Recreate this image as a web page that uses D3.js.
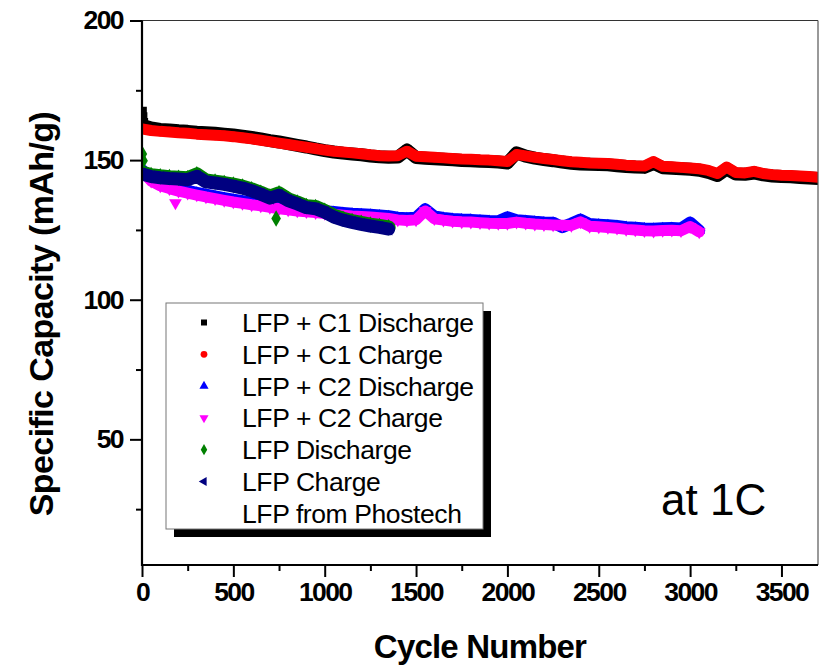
<!DOCTYPE html>
<html>
<head>
<meta charset="utf-8">
<script src="https://cdn.jsdelivr.net/npm/d3@7"></script>
<style>
  html, body { margin: 0; padding: 0; background: #fff; }
  svg { display: block; }
  text { font-family: "Liberation Sans", Arial, Helvetica, sans-serif; }
</style>
</head>
<body>
<svg id="chart" width="825" height="669"></svg>
<script>
// Cycle grid shared by all series (step of 50 cycles)
const cyclesC1 = d3.range(0, 3701, 50);   // 0 .. 3700
const cyclesC2 = d3.range(0, 3051, 50);   // 0 .. 3050
const cyclesLFP = d3.range(0, 1351, 50);  // 0 .. 1350

const c1Discharge = [162.5,161.5,161.0,160.8,160.5,160.3,160.0,159.8,159.6,159.3,159.0,158.6,158.1,157.6,157.0,156.5,155.9,155.3,154.7,154.0,
  153.4,152.9,152.5,152.2,151.9,151.5,151.2,151.0,151.1,153.6,150.9,150.7,150.5,150.3,150.1,149.9,149.8,149.6,149.5,149.3,
  149.0,152.6,151.4,150.7,150.2,149.8,149.3,148.9,148.6,148.5,148.4,148.3,148.0,147.7,147.5,147.4,148.8,147.3,147.1,146.9,
  146.7,146.4,145.6,144.5,146.8,145.0,144.9,145.4,144.7,144.3,144.1,144.0,143.8,143.6,143.4];
const c1Charge = [161.2,160.6,160.3,160.1,159.8,159.6,159.3,159.1,158.9,158.7,158.4,158.0,157.6,157.1,156.6,156.1,155.6,155.1,154.6,154.1,
  153.6,153.2,152.9,152.6,152.3,151.9,151.6,151.5,151.6,153.2,151.4,151.2,151.0,150.8,150.6,150.4,150.3,150.1,150.0,149.8,
  149.5,152.0,151.5,151.0,150.6,150.2,149.8,149.4,149.2,149.0,148.9,148.8,148.5,148.2,148.0,147.9,149.5,147.8,147.6,147.4,
  147.2,146.9,146.3,145.2,147.5,145.6,145.4,146.0,145.2,144.8,144.6,144.5,144.3,144.1,143.9];
const c2Discharge = [146.5,143.2,141.6,140.6,139.7,139.0,138.3,137.6,137.0,136.4,135.8,135.3,134.8,134.4,133.9,133.4,133.0,132.6,132.3,132.0,
  131.7,131.4,131.1,130.8,130.6,130.4,130.2,129.9,129.4,129.2,129.4,132.4,129.8,129.3,128.9,128.7,128.6,128.4,128.2,128.1,
  129.5,128.5,128.2,127.9,127.7,127.6,126.0,127.3,128.7,127.1,126.9,126.7,126.4,126.0,125.8,125.5,125.4,125.6,125.7,125.5,
  127.6,124.8];
const c2Charge = [146.0,142.5,140.8,139.8,138.9,138.2,137.5,136.8,136.2,135.6,135.0,134.5,134.0,133.6,133.1,132.6,132.2,131.8,131.5,131.2,
  130.9,130.6,130.3,130.0,129.8,129.6,129.4,129.1,128.6,128.4,128.6,131.8,129.0,128.5,128.1,127.9,127.8,127.6,127.4,127.3,
  127.3,127.8,127.4,127.1,126.9,126.8,126.7,126.6,127.9,126.3,126.1,125.9,125.6,125.2,125.0,124.7,124.6,124.8,124.9,124.7,
  126.2,124.3];
const lfpDischarge = [145.6,144.6,144.2,143.9,143.7,143.5,144.9,142.7,142.3,141.8,141.2,140.5,139.5,138.3,136.9,138.1,136.0,134.8,133.5,133.2,
  131.8,130.1,129.0,128.2,127.5,126.9,126.4,125.9];
const lfpCharge = [145.0,144.1,143.7,143.4,143.2,143.0,144.2,142.2,141.8,141.3,140.7,140.0,139.0,137.8,136.4,137.4,135.5,134.3,133.0,132.6,
  131.3,129.6,128.5,127.7,127.0,126.4,125.9,125.3];

// Isolated readings away from the main traces: [cycle, capacity]
const c1DischargeExtra = [[2, 167.5], [5, 165.5], [9, 163.5]];
const c2ChargeExtra = [[183, 134.7]];
const lfpDischargeExtra = [[2, 152.2], [6, 149.8], [734, 129.1]];

const xTicks = [0, 500, 1000, 1500, 2000, 2500, 3000, 3500];
const xMinorTicks = [250, 750, 1250, 1750, 2250, 2750, 3250];
const yTicks = [50, 100, 150, 200];
const yMinorTicks = [25, 75, 125, 175];

const legendLabels = ["LFP + C1 Discharge", "LFP + C1 Charge", "LFP + C2 Discharge",
  "LFP + C2 Charge", "LFP Discharge", "LFP Charge", "LFP from Phostech"];

const svg = d3.select("#chart");
const plotL = 142, plotR = 818, plotT = 20.5, plotB = 565;

const x = d3.scaleLinear().domain([0, 3700]).range([plotL, plotR]);
const y = d3.scaleLinear().domain([5, 200]).range([plotB, plotT]);

const series = [
  { cycles: cyclesC1, values: c1Discharge, extra: c1DischargeExtra, color: "#000000", type: d3.symbolSquare, rot: 0, width: 13, size: 80 },
  { cycles: cyclesC1, values: c1Charge, extra: [], color: "#ff0000", type: d3.symbolCircle, rot: 0, width: 11, size: 80 },
  { cycles: cyclesC2, values: c2Discharge, extra: [], color: "#0000ff", type: d3.symbolTriangle, rot: 0, width: 12, size: 55 },
  { cycles: cyclesC2, values: c2Charge, extra: c2ChargeExtra, color: "#ff00ff", type: d3.symbolTriangle, rot: 180, width: 11, size: 70 },
  { cycles: cyclesLFP, values: lfpDischarge, extra: lfpDischargeExtra, color: "#008000", type: d3.symbolDiamond, rot: 0, width: 14, size: 80 },
  { cycles: cyclesLFP, values: lfpCharge, extra: [], color: "#000080", type: d3.symbolTriangle, rot: -90, width: 13, size: 70 }
];

svg.append("clipPath").attr("id", "plotClip")
  .append("rect").attr("x", plotL).attr("y", plotT).attr("width", plotR - plotL).attr("height", plotB - plotT);

const plot = svg.append("g").attr("clip-path", "url(#plotClip)");
const line = d3.line().x(d => x(d[0])).y(d => y(d[1]));

series.forEach(s => {
  const pts = s.cycles.map((c, i) => [c, s.values[i]]);
  const g = plot.append("g");
  g.append("path")
    .attr("d", line(pts))
    .attr("fill", "none")
    .attr("stroke", s.color)
    .attr("stroke-width", s.width)
    .attr("stroke-linejoin", "round")
    .attr("stroke-linecap", "round");
  const sym = d3.symbol().type(s.type).size(s.size);
  g.selectAll("path.m")
    .data(pts.concat(s.extra))
    .join("path")
    .attr("class", "m")
    .attr("d", sym)
    .attr("fill", s.color)
    .attr("transform", d => `translate(${x(d[0])},${y(d[1])}) rotate(${s.rot})`);
});

// Frame: thin top and right edges
svg.append("line").attr("x1", plotL).attr("x2", plotR).attr("y1", plotT).attr("y2", plotT)
  .attr("stroke", "#333").attr("stroke-width", 1);
svg.append("line").attr("x1", plotR).attr("x2", plotR).attr("y1", plotT).attr("y2", plotB)
  .attr("stroke", "#555").attr("stroke-width", 1.2);

// Axes
const xAxis = svg.append("g").attr("transform", `translate(0,${plotB})`)
  .call(d3.axisBottom(x).tickValues(xTicks).tickSize(12).tickPadding(5).tickFormat(d3.format("d")));
const xMinor = svg.append("g").attr("transform", `translate(0,${plotB})`)
  .call(d3.axisBottom(x).tickValues(xMinorTicks).tickSize(6).tickFormat(""));
const yAxis = svg.append("g").attr("transform", `translate(${plotL},0)`)
  .call(d3.axisLeft(y).tickValues(yTicks).tickSize(12).tickPadding(7).tickFormat(d3.format("d")));
const yMinor = svg.append("g").attr("transform", `translate(${plotL},0)`)
  .call(d3.axisLeft(y).tickValues(yMinorTicks).tickSize(6).tickFormat(""));

[xAxis, xMinor, yAxis, yMinor].forEach(a => {
  a.select(".domain").attr("stroke", "#000").attr("stroke-width", 2.2);
  a.selectAll(".tick line").attr("stroke", "#000").attr("stroke-width", 2);
});
xMinor.select(".domain").remove();
yMinor.select(".domain").remove();
// extend axis lines to the corner
xAxis.select(".domain").attr("d", `M${plotL - 1},0H${plotR}`);
yAxis.select(".domain").attr("d", `M0,${plotT}V${plotB + 1}`);

[xAxis, yAxis].forEach(a => a.selectAll(".tick text")
  .attr("font-size", 26.5).attr("font-weight", "bold").attr("fill", "#000")
  .attr("letter-spacing", -1.6).attr("font-family", "'Liberation Sans', Arial, sans-serif"));

// Axis titles
svg.append("text")
  .attr("x", 480).attr("y", 658)
  .attr("text-anchor", "middle")
  .attr("font-size", 33).attr("font-weight", "bold").attr("letter-spacing", -0.8)
  .text("Cycle Number");
svg.append("text")
  .attr("transform", "translate(53,314) rotate(-90)")
  .attr("text-anchor", "middle")
  .attr("font-size", 34).attr("font-weight", "bold").attr("letter-spacing", -0.6)
  .text("Specific Capacity (mAh/g)");

// Annotation
svg.append("text")
  .attr("x", 661).attr("y", 515)
  .attr("font-size", 44)
  .text("at 1C");

// Legend with drop shadow
const lg = { x: 166, y: 303, w: 317, h: 226 };
svg.append("rect").attr("x", lg.x + 8).attr("y", lg.y + 8).attr("width", lg.w).attr("height", lg.h).attr("fill", "#000");
svg.append("rect").attr("x", lg.x).attr("y", lg.y).attr("width", lg.w).attr("height", lg.h)
  .attr("fill", "#fff").attr("stroke", "#777").attr("stroke-width", 1);

legendLabels.forEach((label, i) => {
  const cy = 322.5 + i * 31.8;
  const s = series[i];
  if (s) {
    svg.append("path")
      .attr("d", d3.symbol().type(s.type).size(36)())
      .attr("fill", s.color)
      .attr("transform", `translate(204,${cy}) rotate(${s.rot})`);
  }
  svg.append("text")
    .attr("x", 242).attr("y", cy + 9.5)
    .attr("font-size", 26.5)
    .attr("letter-spacing", -0.4)
    .text(label);
});
</script>
</body>
</html>
